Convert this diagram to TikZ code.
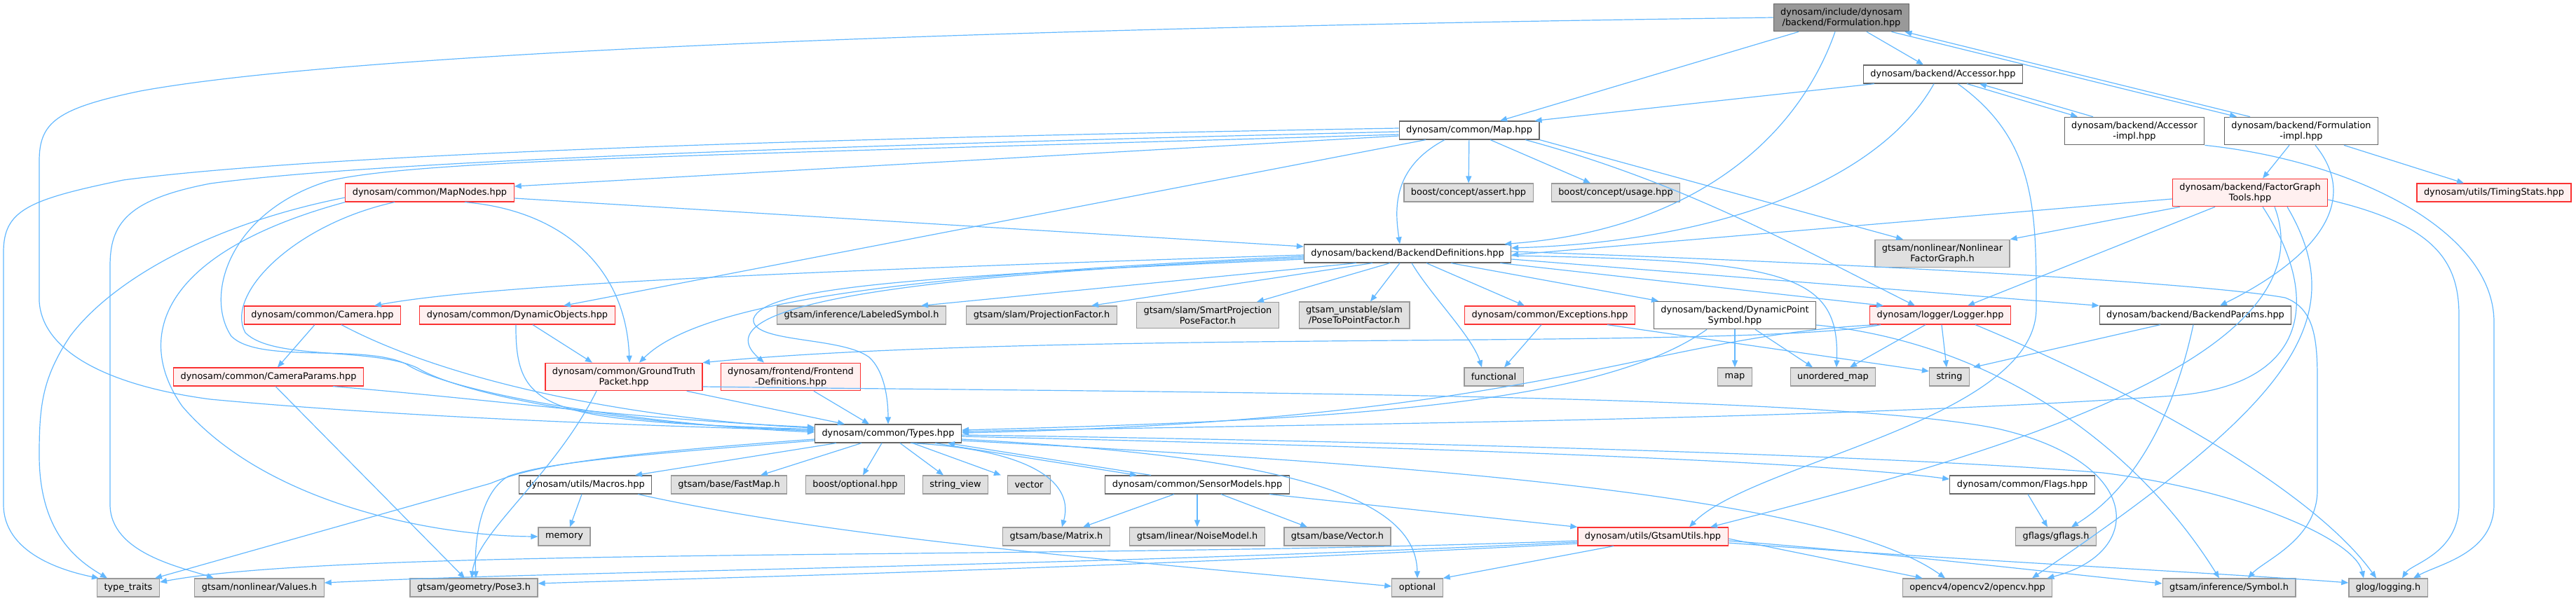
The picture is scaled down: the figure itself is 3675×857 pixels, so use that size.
\documentclass[tikz,border=0pt]{standalone}
\usepackage{fontspec}
\setmainfont{DejaVu Sans}
\usetikzlibrary{arrows.meta}
\definecolor{edgeblue}{RGB}{99,184,255}
\definecolor{rootfill}{RGB}{153,153,153}
\definecolor{rootline}{RGB}{102,102,102}
\definecolor{sysfill}{RGB}{224,224,224}
\definecolor{sysline}{RGB}{153,153,153}
\definecolor{truncfill}{RGB}{255,240,240}
\definecolor{truncline}{RGB}{250,50,50}

\begin{document}
\begin{tikzpicture}[x=1pt, y=-1pt,
  >={Triangle[length=10pt,width=8pt]},
  hdr/.style={draw=rootline, fill=white, line width=1.2pt, inner xsep=10pt, inner ysep=6pt,
    minimum height=26pt, align=center, font=\fontsize{12.9}{15}\selectfont},
  sysh/.style={hdr, draw=sysline, fill=sysfill},
  redh/.style={hdr, draw=truncline, fill=truncfill},
  rooth/.style={hdr, fill=rootfill},
  incl/.style={->, draw=edgeblue, line width=1.2pt}]
  \useasboundingbox (0,0) rectangle (3675,857);

  %% Headers, row by row
  \node[rooth] (form) at (2627,25) {dynosam/include/dynosam\\/backend/Formulation.hpp};
  \node[hdr] (acc) at (2772,106) {dynosam/backend/Accessor.hpp};
  \node[hdr] (map) at (2096,186) {dynosam/common/Map.hpp};
  \node[hdr] (accimpl) at (3045,187) {dynosam/backend/Accessor\\-impl.hpp};
  \node[hdr] (formimpl) at (3283,187) {dynosam/backend/Formulation\\-impl.hpp};
  \node[redh] (mapnodes) at (613,275) {dynosam/common/MapNodes.hpp};
  \node[sysh] (bassert) at (2095,275) {boost/concept/assert.hpp};
  \node[sysh] (busage) at (2305,275) {boost/concept/usage.hpp};
  \node[redh] (fgtools) at (3210,275) {dynosam/backend/FactorGraph\\Tools.hpp};
  \node[redh] (timing) at (3558,275) {dynosam/utils/TimingStats.hpp};
  \node[hdr] (bdefs) at (2008,362) {dynosam/backend/BackendDefinitions.hpp};
  \node[sysh] (nfg) at (2771,362) {gtsam/nonlinear/Nonlinear\\FactorGraph.h};
  \node[redh] (camera) at (460,450) {dynosam/common/Camera.hpp};
  \node[redh] (dynobj) at (738,450) {dynosam/common/DynamicObjects.hpp};
  \node[sysh] (labsym) at (1229,450) {gtsam/inference/LabeledSymbol.h};
  \node[sysh] (projfac) at (1486,450) {gtsam/slam/ProjectionFactor.h};
  \node[sysh] (smartproj) at (1723,450) {gtsam/slam/SmartProjection\\PoseFactor.h};
  \node[sysh] (posetopt) at (1932,450) {gtsam\_unstable/slam\\/PoseToPointFactor.h};
  \node[redh] (except) at (2211,450) {dynosam/common/Exceptions.hpp};
  \node[hdr] (dps) at (2475,450) {dynosam/backend/DynamicPoint\\Symbol.hpp};
  \node[redh] (logger) at (2768,450) {dynosam/logger/Logger.hpp};
  \node[hdr] (bparams) at (3132,450) {dynosam/backend/BackendParams.hpp};
  \node[redh] (camparams) at (383,538) {dynosam/common/CameraParams.hpp};
  \node[redh] (gtpacket) at (890,538) {dynosam/common/GroundTruth\\Packet.hpp};
  \node[redh] (frontend) at (1128,538) {dynosam/frontend/Frontend\\-Definitions.hpp};
  \node[sysh] (functional) at (2131,538) {functional};
  \node[sysh] (stdmap) at (2475,538) {map};
  \node[sysh] (umap) at (2615,538) {unordered\_map};
  \node[sysh] (stdstring) at (2781,538) {string};
  \node[hdr] (types) at (1267,619) {dynosam/common/Types.hpp};
  \node[hdr] (macros) at (835,692) {dynosam/utils/Macros.hpp};
  \node[sysh] (fastmap) at (1040,692) {gtsam/base/FastMap.h};
  \node[sysh] (boptional) at (1220,692) {boost/optional.hpp};
  \node[sysh] (strview) at (1363,692) {string\_view};
  \node[sysh] (vector) at (1468,692) {vector};
  \node[hdr] (sensors) at (1708,692) {dynosam/common/SensorModels.hpp};
  \node[hdr] (flags) at (2885,692) {dynosam/common/Flags.hpp};
  \node[sysh] (memory) at (805,766) {memory};
  \node[sysh] (matrix) at (1507,766) {gtsam/base/Matrix.h};
  \node[sysh] (noise) at (1708,766) {gtsam/linear/NoiseModel.h};
  \node[sysh] (vectorh) at (1908,766) {gtsam/base/Vector.h};
  \node[redh] (gtsamutils) at (2358,766) {dynosam/utils/GtsamUtils.hpp};
  \node[sysh] (gflags) at (2933,766) {gflags/gflags.h};
  \node[sysh] (typetraits) at (183,839) {type\_traits};
  \node[sysh] (values) at (370,839) {gtsam/nonlinear/Values.h};
  \node[sysh] (pose3) at (676,839) {gtsam/geometry/Pose3.h};
  \node[sysh] (optional) at (2022,839) {optional};
  \node[sysh] (opencv) at (2821,839) {opencv4/opencv2/opencv.hpp};
  \node[sysh] (symbol) at (3180,839) {gtsam/inference/Symbol.h};
  \node[sysh] (glog) at (3407,839) {glog/logging.h};

  %% Formulation.hpp
  \draw[incl] ([xshift=-61]form.south) -- ([xshift=44]map.north);
  \draw[incl] ([xshift=36]form.south) -- ([xshift=-28]acc.north);
  \draw[incl] ([xshift=-9]form.south) .. controls (2560,210) and (2400,330) .. ([xshift=-10]bdefs.north east);
  \draw[incl] ([xshift=-26]form.south east) -- ([xshift=-92]formimpl.north);
  \draw[incl] ([xshift=-73]formimpl.north) -- ([xshift=-7]form.south east);
  \draw[incl] (form.west) .. controls (1400,40) and (500,75) .. (200,130) .. controls (80,155) and (56,175) .. (56,230) -- (56,430)
    .. controls (60,500) and (150,550) .. (300,570) .. controls (600,598) and (950,608) .. ([yshift=4]types.west);

  %% Accessor.hpp and the impl files
  \draw[incl] ([xshift=16]acc.south west) -- ([xshift=-7]map.north east);
  \draw[incl] ([xshift=34]acc.south) -- ([xshift=-81]accimpl.north);
  \draw[incl] ([xshift=-59]accimpl.north) -- ([xshift=52]acc.south);
  \draw[incl] ([xshift=-13]acc.south) .. controls (2680,260) and (2450,345) .. ([yshift=8]bdefs.east);
  \draw[incl] ([xshift=21]acc.south) .. controls (2905,200) and (2905,300) .. (2905,440) .. controls (2905,600) and (2500,660) .. ([xshift=52]gtsamutils.north);
  \draw[incl] (accimpl.south east) .. controls (3360,230) and (3558,330) .. (3558,460) -- (3558,720) .. controls (3558,790) and (3480,805) .. ([xshift=36]glog.north);
  \draw[incl] ([xshift=-17]formimpl.south) -- ([xshift=18]fgtools.north);
  \draw[incl] ([xshift=61]formimpl.south) -- ([xshift=-43]timing.north);
  \draw[incl] ([xshift=20]formimpl.south) .. controls (3370,290) and (3300,370) .. ([xshift=35]bparams.north);

  %% Map.hpp
  \draw[incl] ([xshift=-35]map.south) .. controls (1985,240) and (1990,300) .. ([xshift=-11]bdefs.north);
  \draw[incl] (map) -- (bassert);
  \draw[incl] ([xshift=30]map.south) -- ([xshift=-36]busage.north);
  \draw[incl] (map.south east) -- ([xshift=-56]nfg.north);
  \draw[incl] ([xshift=80]map.south) .. controls (2400,260) and (2560,350) .. ([xshift=-36]logger.north);
  \draw[incl] ([yshift=-8]map.west) -- ([yshift=9]mapnodes.east);
  \draw[incl] ([xshift=-62]map.south) -- ([xshift=66]dynobj.north);
  \draw[incl] ([yshift=3]map.west) .. controls (1000,200) and (420,225) .. (176,257) .. controls (40,285) and (5,300) .. (5,360) -- (5,720)
    .. controls (5,790) and (90,815) .. ([xshift=3]typetraits.north west);
  \draw[incl] ([yshift=-2]map.west) .. controls (1000,212) and (500,235) .. (300,262) .. controls (180,285) and (157,320) .. (157,380) -- (157,720)
    .. controls (157,790) and (260,810) .. ([xshift=-65]values.north);
  \draw[incl] ([yshift=-6]map.west) .. controls (1000,222) and (600,228) .. (470,258) .. controls (330,300) and (290,420) .. (330,480)
    .. controls (370,520) and (520,490) .. (580,520) .. controls (640,560) and (900,605) .. ([yshift=2]types.west);

  %% MapNodes.hpp
  \draw[incl] ([yshift=-8]mapnodes.east) -- ([yshift=10]bdefs.west);
  \draw[incl] ([xshift=-50]mapnodes.south) .. controls (420,320) and (320,420) .. (350,475) .. controls (390,515) and (530,495) .. (595,525)
    .. controls (660,565) and (900,610) .. ([yshift=6]types.west);
  \draw[incl] ([yshift=-7]mapnodes.west) .. controls (300,320) and (160,400) .. (100,480) .. controls (60,540) and (56,580) .. (56,650)
    .. controls (56,760) and (110,800) .. ([xshift=-30]typetraits.north);
  \draw[incl] (mapnodes.south west) .. controls (230,360) and (190,480) .. (260,580) .. controls (380,720) and (620,765) .. (memory.west);
  \draw[incl] ([xshift=50]mapnodes.south) .. controls (800,300) and (893,380) .. ([xshift=8]gtpacket.north);

  %% BackendDefinitions.hpp
  \draw[incl] ([yshift=-2]bdefs.west) .. controls (1200,385) and (700,405) .. ([xshift=74]camera.north);
  \draw[incl] ([yshift=-4]bdefs.west) .. controls (1300,392) and (1000,430) .. ([xshift=22]gtpacket.north);
  \draw[incl] ([yshift=-6]bdefs.west) .. controls (1250,395) and (1000,440) .. ([xshift=-38]frontend.north);
  \draw[incl] ([yshift=-8]bdefs.west) .. controls (1300,395) and (1090,410) .. (1075,455) .. controls (1070,490) and (1200,480) .. (1240,510)
    .. controls (1262,530) and (1267,570) .. (types.north);
  \draw[incl] ([xshift=-73]bdefs.south) -- ([xshift=85]labsym.north);
  \draw[incl] ([xshift=-50]bdefs.south) -- ([xshift=71]projfac.north);
  \draw[incl] ([xshift=-25]bdefs.south) -- ([xshift=70]smartproj.north);
  \draw[incl] ([xshift=-11]bdefs.south) -- ([xshift=23]posetopt.north);
  \draw[incl] ([xshift=6]bdefs.south) .. controls (2040,420) and (2100,480) .. ([xshift=-17]functional.north);
  \draw[incl] ([xshift=27]bdefs.south) -- ([xshift=-36]except.north);
  \draw[incl] ([xshift=62]bdefs.south) -- ([xshift=-109]dps.north);
  \draw[incl] ([xshift=-16]bdefs.south east) -- ([xshift=-81]logger.north);
  \draw[incl] ([yshift=-3]bdefs.east) .. controls (2550,372) and (2625,390) .. ([xshift=5]umap.north);
  \draw[incl] ([yshift=-8]bdefs.east) -- (bparams.north west);
  \draw[incl] ([yshift=3]bdefs.east) .. controls (2700,378) and (3150,405) .. (3260,425) .. controls (3300,440) and (3306,480) .. (3306,540)
    -- (3306,700) .. controls (3306,770) and (3230,800) .. ([xshift=27]symbol.north);

  %% FactorGraphTools.hpp
  \draw[incl] ([yshift=-9]fgtools.west) -- ([yshift=-2]bdefs.east);
  \draw[incl] ([xshift=-100]fgtools.south) -- (nfg.north east);
  \draw[incl] ([xshift=-50]fgtools.south) -- ([xshift=39]logger.north);
  \draw[incl] ([xshift=18]fgtools.south) .. controls (3310,420) and (3300,550) .. (3100,565) .. controls (2600,600) and (1900,605) .. ([yshift=3]types.east);
  \draw[incl] ([xshift=35]fgtools.south) .. controls (3330,520) and (2800,660) .. ([xshift=82]gtsamutils.north);
  \draw[incl] ([xshift=53]fgtools.south) .. controls (3360,460) and (3260,580) .. ([xshift=78]opencv.north);
  \draw[incl] ([yshift=-10]fgtools.east) .. controls (3470,320) and (3508,370) .. (3508,450) -- (3508,720) .. controls (3508,790) and (3440,805) .. ([xshift=20]glog.north);

  %% Camera, DynamicObjects, GroundTruthPacket, Frontend
  \draw[incl] ([xshift=-11]camera.south) -- ([xshift=13]camparams.north);
  \draw[incl] ([xshift=27]camera.south) .. controls (640,545) and (900,598) .. ([yshift=8]types.west);
  \draw[incl] ([xshift=92]camparams.south) .. controls (700,570) and (900,598) .. ([yshift=9]types.west);
  \draw[incl] ([xshift=10]camparams.south) -- ([xshift=-13]pose3.north);
  \draw[incl] ([xshift=-2]dynobj.south) .. controls (735,590) and (780,600) .. ([yshift=6]types.west);
  \draw[incl] ([xshift=22]dynobj.south) -- ([xshift=-45]gtpacket.north);
  \draw[incl] ([xshift=-23]gtpacket.south east) -- ([xshift=-62]types.north);
  \draw[incl] ([xshift=-39]gtpacket.south) .. controls (790,680) and (680,760) .. ([xshift=-3]pose3.north);
  \draw[incl] ([yshift=-14]gtpacket.east) .. controls (1600,560) and (2600,560) .. (2850,612) .. controls (3060,660) and (3060,790) .. ([xshift=-8]opencv.north east);
  \draw[incl] ([xshift=33]frontend.south) -- ([xshift=-27]types.north);

  %% Exceptions, DynamicPointSymbol, Logger, BackendParams
  \draw[incl] ([xshift=-12]except.south) -- ([xshift=15]functional.north);
  \draw[incl] ([xshift=82]except.south) -- ([yshift=8]stdstring.west);
  \draw[incl] (dps) -- (stdmap);
  \draw[incl] ([xshift=29]dps.south) -- ([xshift=-29]umap.north);
  \draw[incl] ([xshift=-40]dps.south) .. controls (2280,580) and (1900,600) .. ([yshift=5]types.east);
  \draw[incl] ([yshift=-14]dps.east) .. controls (2850,490) and (3050,640) .. ([xshift=-14]symbol.north);
  \draw[incl] ([xshift=-85]logger.south) .. controls (2500,500) and (1500,470) .. (gtpacket.north east);
  \draw[incl] ([xshift=-21]logger.south) -- ([xshift=24]umap.north);
  \draw[incl] ([xshift=2]logger.south) -- ([xshift=-4]stdstring.north);
  \draw[incl] ([xshift=-90]logger.south) .. controls (2350,480) and (2200,600) .. ([yshift=1]types.east);
  \draw[incl] ([xshift=50]logger.south) .. controls (3050,560) and (3300,700) .. ([xshift=-17]glog.north);
  \draw[incl] ([xshift=-50]bparams.south) -- ([xshift=34]stdstring.north);
  \draw[incl] ([xshift=-3]bparams.south) .. controls (3100,600) and (3040,700) .. ([xshift=22]gflags.north);

  %% Types.hpp
  \draw[incl] ([xshift=-74]types.south) -- ([xshift=71]macros.north);
  \draw[incl] ([xshift=-38]types.south) -- ([xshift=45]fastmap.north);
  \draw[incl] ([xshift=-9]types.south) -- ([xshift=11]boptional.north);
  \draw[incl] ([xshift=17]types.south) -- ([xshift=-17]strview.north);
  \draw[incl] ([xshift=35]types.south) -- ([xshift=-40]vector.north);
  \draw[incl] ([xshift=67]types.south) -- ([xshift=-86]sensors.north);
  \draw[incl] ([xshift=-66]sensors.north) -- ([xshift=85]types.south);
  \draw[incl] ([xshift=32]types.south) .. controls (1450,640) and (1535,680) .. ([xshift=8]matrix.north);
  \draw[incl] ([yshift=-8]types.west) .. controls (850,650) and (760,665) .. (700,690) -- ([xshift=38]typetraits.north);
  \draw[incl] ([yshift=-10]types.west) .. controls (900,650) and (780,660) .. (725,680) .. controls (690,700) and (676,760) .. ([xshift=3]pose3.north);
  \draw[incl] ([yshift=-8]types.east) .. controls (1800,650) and (2020,700) .. (optional.north);
  \draw[incl] ([yshift=-4]types.east) .. controls (2100,640) and (2600,660) .. ([yshift=8]flags.west);
  \draw[incl] ([yshift=-2]types.east) .. controls (2000,630) and (2700,650) .. (3000,675) .. controls (3200,700) and (3360,770) .. ([xshift=-35]glog.north);
  \draw[incl] ([yshift=-10]types.east) .. controls (1950,660) and (2600,700) .. ([xshift=-46]opencv.north);

  %% SensorModels, Macros, Flags
  \draw[incl] ([xshift=-33]sensors.south) -- ([xshift=38]matrix.north);
  \draw[incl] (sensors) -- (noise);
  \draw[incl] ([xshift=34]sensors.south) -- ([xshift=-43]vectorh.north);
  \draw[incl] ([xshift=-29]sensors.south east) -- (gtsamutils.north west);
  \draw[incl] ([xshift=-5]macros.south) -- ([xshift=8]memory.north);
  \draw[incl] ([xshift=-20]macros.south east) .. controls (1200,770) and (1600,800) .. ([yshift=2]optional.west);
  \draw[incl] ([xshift=8]flags.south) -- ([xshift=-12]gflags.north);

  %% GtsamUtils.hpp
  \draw[incl] ([xshift=-56]gtsamutils.south) -- (optional.north east);
  \draw[incl] ([yshift=-6]gtsamutils.west) .. controls (1500,800) and (500,780) .. ([yshift=8]typetraits.east);
  \draw[incl] ([yshift=-8]gtsamutils.west) .. controls (1500,810) and (800,815) .. ([yshift=7]values.east);
  \draw[incl] ([yshift=-10]gtsamutils.west) .. controls (1500,815) and (1000,825) .. ([yshift=6]pose3.east);
  \draw[incl] ([yshift=-3]gtsamutils.east) -- ([xshift=29]opencv.north west);
  \draw[incl] ([yshift=-6]gtsamutils.east) .. controls (2700,790) and (2950,820) .. ([yshift=6]symbol.west);
  \draw[incl] ([yshift=-9]gtsamutils.east) .. controls (2800,800) and (3200,820) .. ([yshift=7]glog.west);
\end{tikzpicture}
\end{document}
